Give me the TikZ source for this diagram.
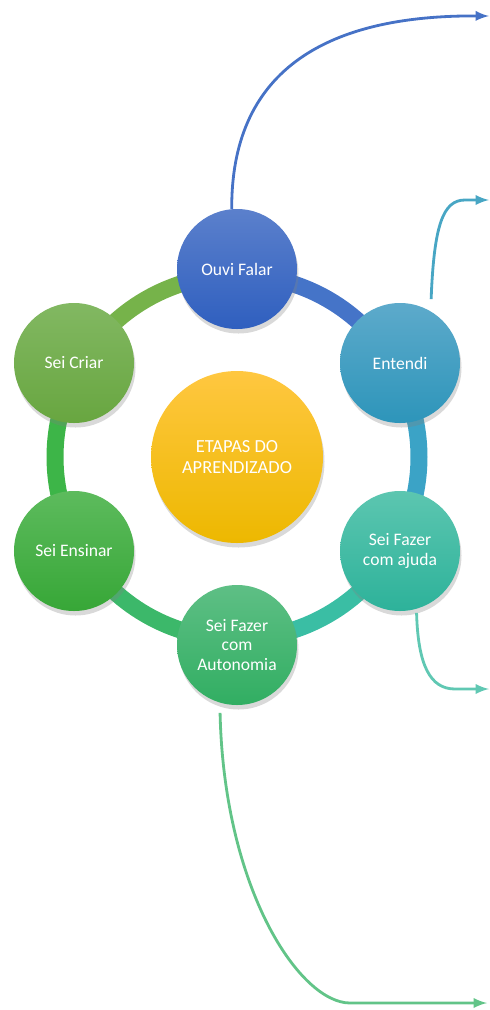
\documentclass[tikz,border=0pt]{standalone}
\usepackage{fontspec}
\setmainfont{Carlito}
\usetikzlibrary{calc,positioning,shadows}

\definecolor{ouviT}{HTML}{5B80CC}\definecolor{ouviB}{HTML}{2F5FBF}\definecolor{ouviM}{HTML}{4672C6}
\definecolor{entT}{HTML}{5DAACB}\definecolor{entB}{HTML}{2D95BA}\definecolor{entM}{HTML}{48A6C4}
\definecolor{ajdT}{HTML}{5CC6B0}\definecolor{ajdB}{HTML}{2DB29A}\definecolor{ajdM}{HTML}{44BEA6}
\definecolor{autT}{HTML}{5EBF85}\definecolor{autB}{HTML}{31AE62}\definecolor{autM}{HTML}{46B973}
\definecolor{ensT}{HTML}{5DBB5D}\definecolor{ensB}{HTML}{37A737}
\definecolor{criT}{HTML}{82B862}\definecolor{criB}{HTML}{68A640}
\definecolor{etT}{HTML}{FFC740}\definecolor{etB}{HTML}{EDB800}
% cores do anel
\definecolor{ouviR}{HTML}{4574C8}\definecolor{entR}{HTML}{3BA3C6}\definecolor{ajdR}{HTML}{3ABEA4}
\definecolor{autR}{HTML}{3CB86A}\definecolor{ensR}{HTML}{3DB548}\definecolor{criR}{HTML}{76B34A}

\tikzset{
	etapa/.style={circle, minimum size=24mm, inner sep=0pt, align=center, text=white,
		font=\fontsize{10}{11}\selectfont,
		drop shadow={opacity=.3, shadow xshift=.3mm, shadow yshift=-.9mm}},
	anel/.style={line width=3.4mm,
		preaction={draw, black, opacity=.15, transform canvas={xshift=.2mm, yshift=-.6mm}}},
	seta/.style={-latex, line width=1.6pt},
}

\begin{document}
\begin{tikzpicture}[x=0.2mm, y=0.2mm]
	\useasboundingbox (0,0) rectangle (490,-1010);
	\node[etapa, minimum size=34.4mm, top color=etT, bottom color=etB, font=\fontsize{10.5}{11.5}\selectfont] at (237,-457) (et) {ETAPAS DO\\APRENDIZADO};
	% anel
	\foreach \a/\c in {90/ouviR, 30/entR, -30/ajdR, -90/autR, -150/ensR, 150/criR}{
		\draw[anel, \c] ($(et)+(\a:182)$) arc[start angle=\a, end angle=\a-60, radius=182];
	}
	\node[etapa, top color=ouviT, bottom color=ouviB] at (237,-269) (of) {Ouvi Falar};
	\node[etapa, top color=entT, bottom color=entB] at (400,-363) (en) {Entendi};
	\node[etapa, top color=ajdT, bottom color=ajdB] at (400,-551) (aj) {Sei Fazer\\com ajuda};
	\node[etapa, top color=autT, bottom color=autB] at (237,-645) (au) {Sei Fazer\\com\\Autonomia};
	\node[etapa, top color=ensT, bottom color=ensB] at (74,-551) (es) {Sei Ensinar};
	\node[etapa, top color=criT, bottom color=criB] at (74,-363) (cr) {Sei Criar};
	% setas
	\coordinate (d1) at (489,-16);
	\coordinate (d2) at (489,-200);
	\coordinate (d3) at (489,-689);
	\coordinate (d4) at (487,-1003);
	\draw[seta, ouviM] (of.95) .. controls (231,-75) and (320,-15) .. (d1);
	\draw[seta, entM] ($(en.center)+(64:71)$) .. controls (434,-225) and (443,-200) .. (465,-200) -- (d2);
	\draw[seta, ajdM!85!white] ($(aj.center)+(-75:64)$) .. controls (418,-665) and (430,-689) .. (455,-689) -- (d3);
	\draw[seta, autM!85!white] ($(au.center)+(-104:70)$) .. controls (224,-890) and (300,-1003) .. (350,-1003) -- (d4);
\end{tikzpicture}
\end{document}
